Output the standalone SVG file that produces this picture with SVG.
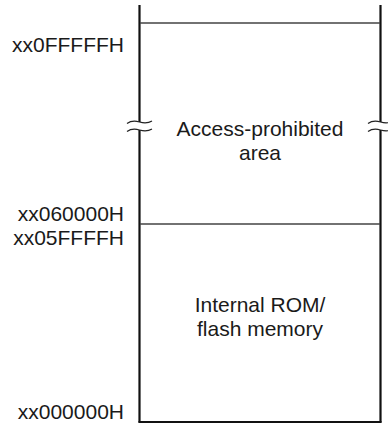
<svg xmlns="http://www.w3.org/2000/svg" width="388" height="425" viewBox="0 0 388 425">
<style>
text{font-family:"Liberation Sans",Arial,sans-serif;font-size:21px;fill:#1a1a1a}
.addr{text-anchor:end}
.lbl{text-anchor:middle}
.wall{stroke:#111;stroke-width:2.2;fill:none}
.div{stroke:#444;stroke-width:1.3;fill:none}
.brk{stroke:#222;stroke-width:1.2;fill:none}
</style>
<rect width="388" height="425" fill="#fff"/>
<g id="connectors">
<path class="wall" d="M139.5,5 V122 M139.5,130 V422.5 M380.5,5 V122 M380.5,130 V422.5"/>
<path class="wall" d="M138.5,422 H381.5"/>
<path class="div" d="M140,23 H380 M140,224 H380"/>
<path class="brk" d="M127,123.5 C132,120 136,121 139.5,122 C143,123 147,124 152,121"/>
<path class="brk" d="M127,131.5 C132,128 136,129 139.5,130 C143,131 147,132 152,129"/>
<path class="brk" d="M368,123.5 C373,120 377,121 380.5,122 C384,123 388,124 393,121"/>
<path class="brk" d="M368,131.5 C373,128 377,129 380.5,130 C384,131 388,132 393,129"/>
</g>
<g id="addr-top"><text class="addr" x="124" y="52">xx0FFFFFH</text></g>
<g id="addr-060000"><text class="addr" x="124" y="221">xx060000H</text></g>
<g id="addr-05FFFF"><text class="addr" x="124" y="245">xx05FFFFH</text></g>
<g id="addr-000000"><text class="addr" x="124" y="419">xx000000H</text></g>
<g id="access-prohibited"><text class="lbl" x="260" y="135.5">Access-prohibited</text><text class="lbl" x="260" y="160">area</text></g>
<g id="internal-rom"><text class="lbl" x="260" y="311.5">Internal ROM/</text><text class="lbl" x="260" y="336">flash memory</text></g>
</svg>
